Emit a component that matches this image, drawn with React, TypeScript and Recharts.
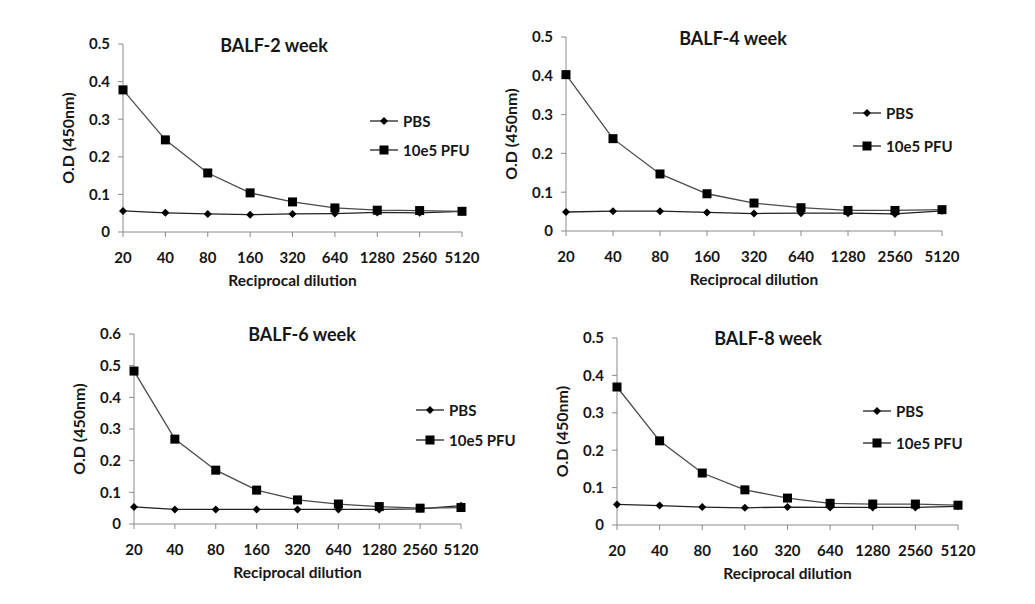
import { Legend, Line, LineChart, XAxis, YAxis } from 'recharts';

const dilutions = ['20', '40', '80', '160', '320', '640', '1280', '2560', '5120'];

const pbsWeek2 = [0.056, 0.051, 0.048, 0.046, 0.048, 0.049, 0.052, 0.051, 0.055];
const pfuWeek2 = [0.378, 0.245, 0.157, 0.104, 0.08, 0.064, 0.058, 0.057, 0.055];

const pbsWeek4 = [0.049, 0.051, 0.051, 0.048, 0.045, 0.046, 0.046, 0.044, 0.052];
const pfuWeek4 = [0.403, 0.238, 0.147, 0.096, 0.072, 0.06, 0.053, 0.053, 0.055];

const pbsWeek6 = [0.054, 0.046, 0.046, 0.046, 0.046, 0.046, 0.046, 0.048, 0.058];
const pfuWeek6 = [0.483, 0.268, 0.17, 0.107, 0.076, 0.063, 0.055, 0.05, 0.052];

const pbsWeek8 = [0.055, 0.052, 0.048, 0.046, 0.048, 0.047, 0.047, 0.047, 0.05];
const pfuWeek8 = [0.369, 0.225, 0.139, 0.094, 0.072, 0.058, 0.056, 0.056, 0.053];

const ticksTo05 = [0, 0.1, 0.2, 0.3, 0.4, 0.5];
const ticksTo06 = [0, 0.1, 0.2, 0.3, 0.4, 0.5, 0.6];

const seriesNames = ['PBS', '10e5 PFU'];

const textColor = '#161616';
const axisColor = '#8a8a8a';
const font = 'Lato, "Open Sans", sans-serif';

const buildRows = (pbs: number[], pfu: number[]) =>
  dilutions.map((dilution, i) => ({ dilution, pbs: pbs[i], pfu: pfu[i] }));

// page placement of each panel (plot box in page pixels)
const panels = [
  { title: 'BALF-2 week', pbs: pbsWeek2, pfu: pfuWeek2, ticks: ticksTo05, axisX: 123, xEnd: 462, yTop: 44, y0: 232, titleX: 274, titleY: 45, legendX: 370, legendY: 121, legendGap: 29 },
  { title: 'BALF-4 week', pbs: pbsWeek4, pfu: pfuWeek4, ticks: ticksTo05, axisX: 566, xEnd: 942, yTop: 37, y0: 231, titleX: 733, titleY: 38, legendX: 853, legendY: 113, legendGap: 33 },
  { title: 'BALF-6 week', pbs: pbsWeek6, pfu: pfuWeek6, ticks: ticksTo06, axisX: 134, xEnd: 461, yTop: 334, y0: 524, titleX: 302, titleY: 334, legendX: 416, legendY: 410, legendGap: 30 },
  { title: 'BALF-8 week', pbs: pbsWeek8, pfu: pfuWeek8, ticks: ticksTo05, axisX: 617, xEnd: 958, yTop: 338, y0: 525, titleX: 768, titleY: 338, legendX: 863, legendY: 411, legendGap: 32 },
];

const Y_AXIS_W = 78;
const X_AXIS_H = 60;
const PAD_TOP = 12;
const PAD_RIGHT = 24;

const renderDiamond = (props: any) => {
  const { cx, cy, index } = props;
  const r = 4;
  return (
    <polygon
      key={`pbs-${index}`}
      points={`${cx},${cy - r} ${cx + r},${cy} ${cx},${cy + r} ${cx - r},${cy}`}
      fill="#000"
    />
  );
};

const renderSquare = (props: any) => {
  const { cx, cy, index } = props;
  return <rect key={`pfu-${index}`} x={cx - 4.5} y={cy - 4.5} width={9} height={9} fill="#000" />;
};

const LegendIcon = ({ kind }: { kind: string }) => (
  <svg width={28} height={12} style={{ marginRight: 5 }}>
    <line x1={0} y1={6} x2={28} y2={6} stroke="#222" strokeWidth={1.3} />
    {kind === 'pbs' ? (
      <polygon points="14,2 18,6 14,10 10,6" fill="#000" />
    ) : (
      <rect x={9.5} y={1.5} width={9} height={9} fill="#000" />
    )}
  </svg>
);

const makeLegend = (gap: number) => (props: any) => {
  const items = [...(props.payload || [])].sort(
    (a: any, b: any) => seriesNames.indexOf(a.value) - seriesNames.indexOf(b.value),
  );
  return (
    <div>
      {items.map((item: any) => (
        <div
          key={item.dataKey}
          style={{ display: 'flex', alignItems: 'center', height: gap, fontFamily: font, fontWeight: 700, fontSize: 15, color: textColor, whiteSpace: 'nowrap' }}
        >
          <LegendIcon kind={item.dataKey} />
          <span>{item.value}</span>
        </div>
      ))}
    </div>
  );
};

const Panel = ({ panel }: { panel: (typeof panels)[number] }) => {
  const left = panel.axisX - Y_AXIS_W;
  const top = panel.yTop - PAD_TOP;
  const width = panel.xEnd - left + PAD_RIGHT;
  const height = panel.y0 - top + X_AXIS_H;
  const rows = buildRows(panel.pbs, panel.pfu);
  const yMax = panel.ticks[panel.ticks.length - 1];

  return (
    <>
      <div style={{ position: 'absolute', left, top, width, height }}>
        <LineChart width={width} height={height} data={rows} margin={{ top: PAD_TOP, right: PAD_RIGHT, left: 0, bottom: 0 }}>
          <XAxis
            dataKey="dilution"
            interval={0}
            height={X_AXIS_H}
            stroke={axisColor}
            tickSize={5}
            tickMargin={15}
            tick={{ fontSize: 15, fontWeight: 700, fill: textColor }}
            label={{ value: 'Reciprocal dilution', position: 'insideBottom', offset: 6, fontSize: 15.5, fontWeight: 700, fill: textColor }}
          />
          <YAxis
            width={Y_AXIS_W}
            domain={[0, yMax]}
            ticks={panel.ticks}
            stroke={axisColor}
            tickSize={5}
            tickMargin={8}
            tick={{ fontSize: 15, fontWeight: 700, fill: textColor }}
            label={{
              value: 'O.D (450nm)',
              angle: -90,
              position: 'insideLeft',
              offset: 23,
              style: { textAnchor: 'middle' },
              fontSize: 16,
              fontWeight: 700,
              fill: textColor,
            }}
          />
          <Legend
            layout="vertical"
            align="center"
            verticalAlign="middle"
            content={makeLegend(panel.legendGap)}
            wrapperStyle={{ left: panel.legendX - left, top: panel.legendY - top - panel.legendGap / 2, width: 'auto' }}
          />
          <Line
            dataKey="pbs"
            name={seriesNames[0]}
            stroke="#222"
            strokeWidth={1.3}
            dot={renderDiamond}
            activeDot={false}
            isAnimationActive={false}
          />
          <Line
            dataKey="pfu"
            name={seriesNames[1]}
            stroke="#4a4a4a"
            strokeWidth={1.3}
            dot={renderSquare}
            activeDot={false}
            isAnimationActive={false}
          />
        </LineChart>
      </div>
      <div
        style={{
          position: 'absolute',
          left: panel.titleX,
          top: panel.titleY,
          transform: 'translate(-50%, -50%)',
          fontFamily: font,
          fontWeight: 700,
          fontSize: 18,
          color: textColor,
          whiteSpace: 'nowrap',
        }}
      >
        {panel.title}
      </div>
    </>
  );
};

export default function App() {
  return (
    <div style={{ position: 'absolute', left: 0, top: 0, width: 1035, height: 604, background: '#fff', fontFamily: font }}>
      {panels.map((panel) => (
        <Panel key={panel.title} panel={panel} />
      ))}
    </div>
  );
}
